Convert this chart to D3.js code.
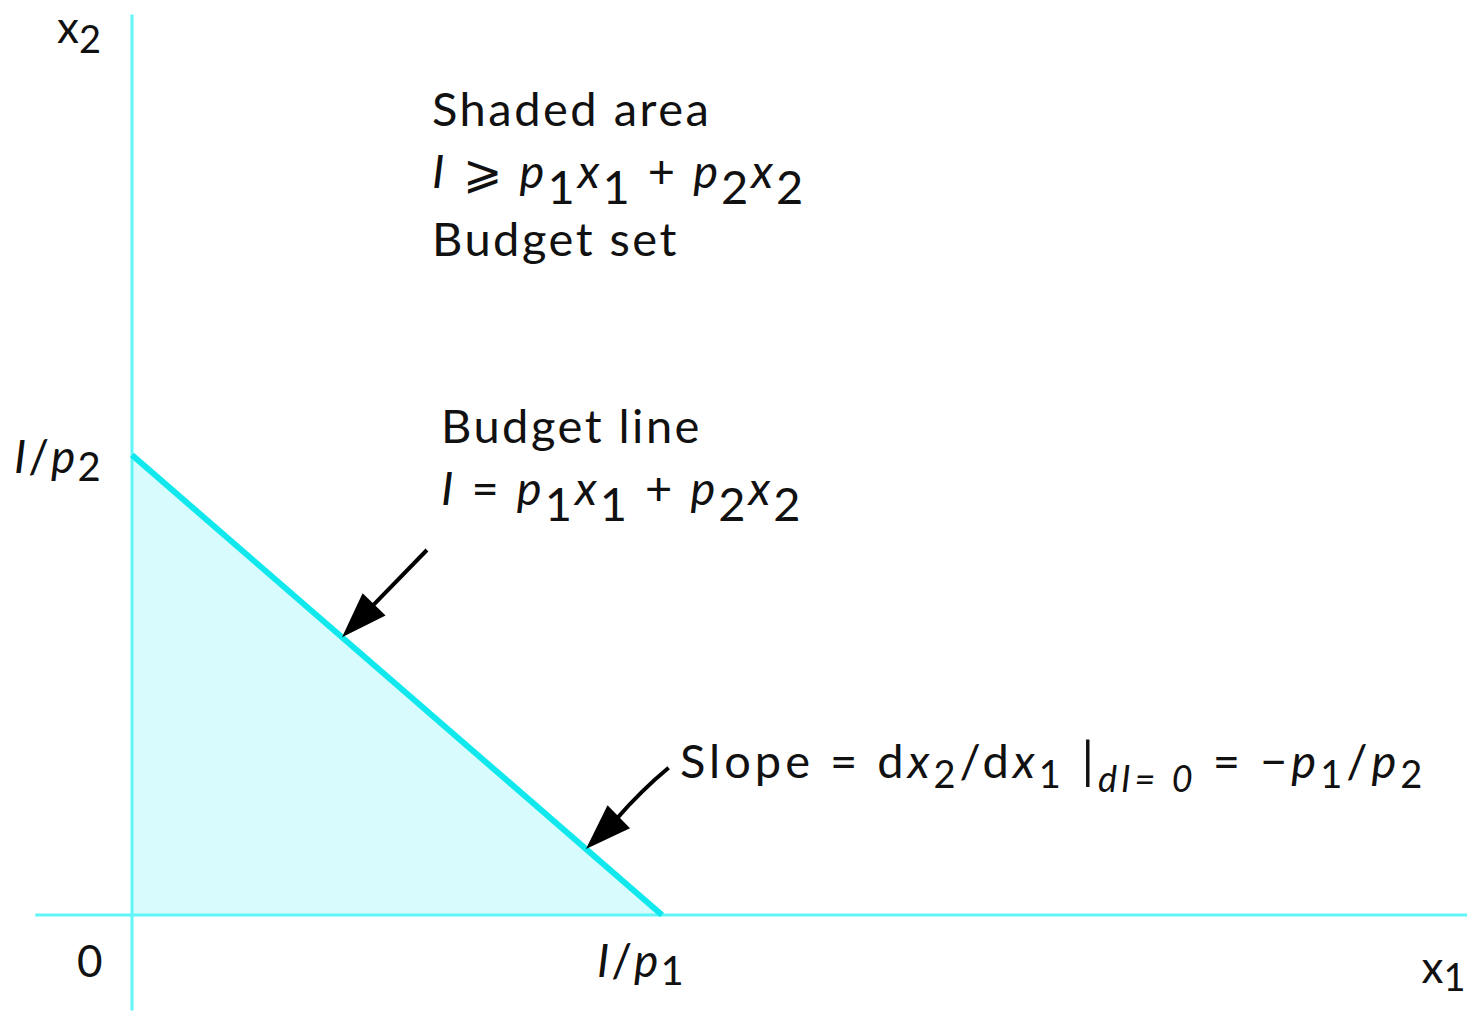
<!DOCTYPE html>
<html>
<head>
<meta charset="utf-8">
<script src="https://cdn.jsdelivr.net/npm/d3@7"></script>
<style>
  body { margin: 0; background: #fff; }
  text { font-family: Lato, "Open Sans", sans-serif; fill: #111; white-space: pre; }
</style>
</head>
<body>
<svg></svg>
<script>
// Budget line intercepts (data units): I/p1 on x1, I/p2 on x2
const intercepts = [{ x1: 0, x2: 4 }, { x1: 4, x2: 0 }];
// Axis extents (data units)
const x1Extent = [-0.73, 10.08];
const x2Extent = [-0.83, 7.83];
// Arrows: tail -> head, head lies on the budget line
const arrows = [
    { from: [2.226, 3.174], to: [1.585, 2.415], bend: 0 },
    { from: [4.05, 1.28], to: [3.426, 0.574], bend: 3 }
];

const W = 1467, H = 1011;
const svg = d3.select("svg").attr("width", W).attr("height", H);

const x = d3.scaleLinear().domain([0, 4]).range([132, 662]);
const y = d3.scaleLinear().domain([0, 4]).range([915, 455]);

const cyan = "#5ff6f8";

// Shaded budget set
svg.append("path")
    .datum(intercepts.concat([{ x1: 0, x2: 0 }]))
    .attr("d", d3.line().x(d => x(d.x1)).y(d => y(d.x2)))
    .attr("fill", "#d8fcfd");

// Axes
svg.append("line")
    .attr("x1", x(0)).attr("x2", x(0))
    .attr("y1", y(x2Extent[1])).attr("y2", y(x2Extent[0]))
    .attr("stroke", cyan).attr("stroke-width", 3);
svg.append("line")
    .attr("x1", x(x1Extent[0])).attr("x2", x(x1Extent[1]))
    .attr("y1", y(0)).attr("y2", y(0))
    .attr("stroke", cyan).attr("stroke-width", 3);

// Budget line
svg.append("path")
    .datum(intercepts)
    .attr("d", d3.line().x(d => x(d.x1)).y(d => y(d.x2)))
    .attr("stroke", "#10e8ee").attr("stroke-width", 6).attr("fill", "none");

// Arrows
arrows.forEach(a => {
    const tx = x(a.from[0]), ty = y(a.from[1]);
    const hx = x(a.to[0]), hy = y(a.to[1]);
    const len = Math.hypot(hx - tx, hy - ty);
    const ux = (hx - tx) / len, uy = (hy - ty) / len;
    const headL = 46, headW = 16;
    const bx = hx - ux * headL, by = hy - uy * headL;
    const mx = (tx + bx) / 2 - uy * a.bend, my = (ty + by) / 2 + ux * a.bend;
    svg.append("path")
        .attr("d", `M${tx},${ty} Q${mx},${my} ${bx + ux * 4},${by + uy * 4}`)
        .attr("stroke", "#000").attr("stroke-width", 4).attr("fill", "none");
    svg.append("path")
        .attr("d", `M${hx},${hy} L${bx - uy * headW},${by + ux * headW} L${bx + uy * headW},${by - ux * headW} Z`)
        .attr("fill", "#000");
});

// Text helper: parts = [text, {t, i: italic, sub: baseline offset, fs: size}]
function rich(xp, yp, parts, size, ls) {
    const t = svg.append("text").attr("x", xp).attr("y", yp)
        .attr("font-size", size).attr("letter-spacing", ls || 0);
    let shift = 0;
    parts.forEach(p => {
        const s = typeof p === "string" ? { t: p } : p;
        const ts = t.append("tspan").text(s.t);
        if (s.i) ts.attr("font-style", "italic");
        const target = s.sub ? s.sub : 0;
        if (target !== shift) { ts.attr("dy", target - shift); shift = target; }
        if (s.fs) ts.attr("font-size", s.fs);
    });
    return t;
}

const fs = 47, ls = 2.5;
// Axis labels
rich(x(0) - 75, y(x2Extent[1]) + 28, ["x", { t: "2", sub: 10, fs: 38 }], 44);
rich(x(0) - 118, y(4) + 18, [{ t: "I", i: true }, "/", { t: "p", i: true }, { t: "2", sub: 8, fs: 40 }], 46, 2);
rich(x(0) - 55, y(0) + 62, ["0"], 44);
rich(x(4) - 65, y(0) + 62, [{ t: "I", i: true }, "/", { t: "p", i: true }, { t: "1", sub: 8, fs: 40 }], 46, 2);
rich(x(x1Extent[1]) - 46, y(0) + 68, ["x", { t: "1", sub: 8, fs: 38 }], 44);

// Shaded area note
rich(432, 126, ["Shaded area"], fs, ls);
rich(432, 188, [{ t: "I", i: true }, " \u2A7E ", { t: "p", i: true }, { t: "1", sub: 16 }, { t: "x", i: true }, { t: "1", sub: 16 },
    " + ", { t: "p", i: true }, { t: "2", sub: 16 }, { t: "x", i: true }, { t: "2", sub: 16 }], fs, 3);
rich(432, 256, ["Budget set"], fs, ls);

// Budget line note
rich(441, 443, ["Budget line"], fs, ls);
rich(441, 505, [{ t: "I", i: true }, " = ", { t: "p", i: true }, { t: "1", sub: 16 }, { t: "x", i: true }, { t: "1", sub: 16 },
    " + ", { t: "p", i: true }, { t: "2", sub: 16 }, { t: "x", i: true }, { t: "2", sub: 16 }], fs, 3);

// Slope note
rich(680, 778, ["Slope = d", { t: "x", i: true }, { t: "2", sub: 10, fs: 38 }, "/d", { t: "x", i: true }, { t: "1", sub: 10, fs: 38 },
    { t: " |", fs: 50 }, { t: "dI= 0", i: true, sub: 14, fs: 36 }, " = \u2212", { t: "p", i: true }, { t: "1", sub: 10, fs: 38 }, "/",
    { t: "p", i: true }, { t: "2", sub: 10, fs: 38 }], fs, 4);
</script>
</body>
</html>
